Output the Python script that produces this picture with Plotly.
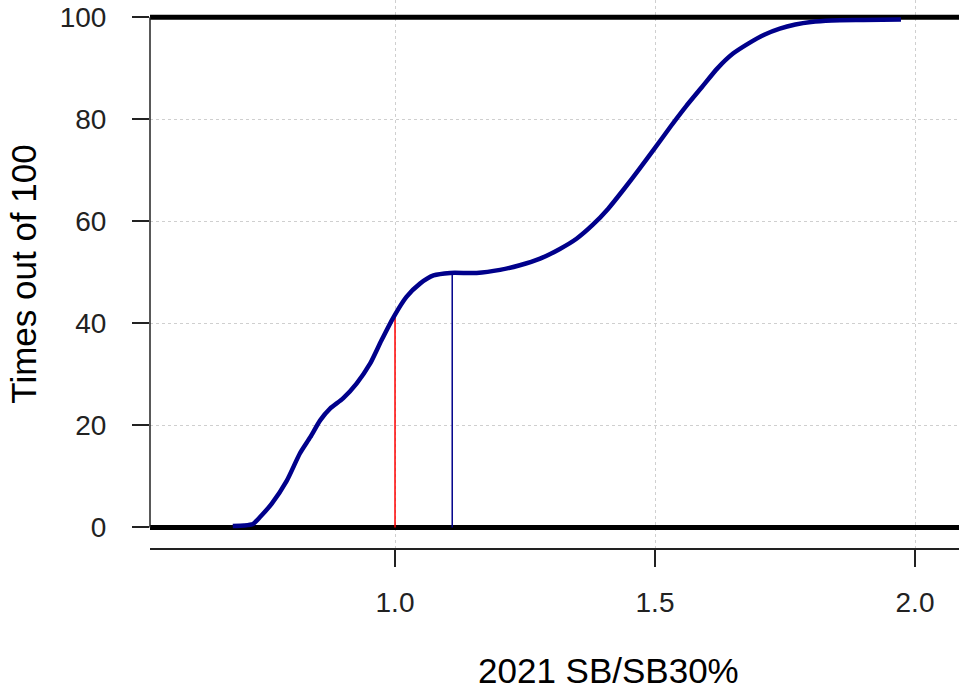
import plotly.graph_objects as go

# Cumulative curve
ratio = [0.688, 0.710, 0.727, 0.740, 0.763, 0.792, 0.817, 0.837, 0.856, 0.875,
         0.900, 0.926, 0.952, 0.974, 0.997, 1.022, 1.048, 1.074, 1.106, 1.157,
         1.202, 1.240, 1.279, 1.317, 1.349, 1.380, 1.410, 1.440, 1.470, 1.500,
         1.530, 1.560, 1.590, 1.620, 1.650, 1.680, 1.710, 1.740, 1.770, 1.800,
         1.840, 1.900, 1.973]
times = [0.3, 0.4, 0.7, 2.0, 4.7, 9.2, 14.5, 17.7, 21.0, 23.3,
         25.3, 28.2, 32.1, 36.7, 41.2, 45.2, 47.8, 49.4, 49.9, 49.9,
         50.5, 51.4, 52.7, 54.6, 56.6, 59.3, 62.5, 66.3, 70.3, 74.4,
         78.6, 82.6, 86.3, 90.0, 92.9, 94.9, 96.6, 97.8, 98.6, 99.1,
         99.4, 99.5, 99.6]

# Reference markers
red_x = [1.0, 1.0]
red_y = [0, 41.6]
blue_x = [1.11, 1.11]
blue_y = [0, 50]

x_range = [0.5288, 2.0846]
y_range = [-4.02, 103.4]
x_ticks = [1.0, 1.5, 2.0]
x_ticklabels = ["1.0", "1.5", "2.0"]
y_ticks = [0, 20, 40, 60, 80, 100]
y_ticklabels = ["0", "20", "40", "60", "80", "100"]
h_lines = [0, 100]
x_title = "2021 SB/SB30%"
y_title = "Times out of 100"

FONT = "Liberation Sans, Arial, sans-serif"

fig = go.Figure()
# thick horizontal reference lines spanning the whole plot region
for h in h_lines:
    fig.add_trace(go.Scatter(x=x_range, y=[h, h], mode="lines",
                             line=dict(color="black", width=5), showlegend=False))
fig.add_trace(go.Scatter(x=red_x, y=red_y, mode="lines",
                         line=dict(color="#ff0000", width=1.5), showlegend=False))
fig.add_trace(go.Scatter(x=blue_x, y=blue_y, mode="lines",
                         line=dict(color="#00008B", width=1.5), showlegend=False))
fig.add_trace(go.Scatter(x=ratio, y=times, mode="lines",
                         line=dict(color="#00008B", width=4.5, shape="spline", smoothing=0.6),
                         showlegend=False))

# left axis line (only between the end ticks)
fig.add_shape(type="line", xref="paper", x0=0, x1=0, yref="y", y0=y_ticks[0], y1=y_ticks[-1],
              line=dict(color="#222222", width=1.5), layer="above")

# x title: centred on the (wider, cropped) original plot region
fig.add_annotation(text=x_title, xref="paper", yref="paper", x=0.567, y=0,
                   yshift=-122, xanchor="center", yanchor="middle", showarrow=False,
                   font=dict(size=35, color="black", family=FONT))

fig.update_layout(
    width=959, height=689,
    margin=dict(l=150, r=0, t=0, b=141, pad=0),
    paper_bgcolor="white", plot_bgcolor="white",
    font=dict(family=FONT, color="black"),
    xaxis=dict(
        range=x_range, tickvals=x_ticks, ticktext=x_ticklabels,
        showgrid=True, gridcolor="#cfcfcf", griddash="3px,3px", gridwidth=1,
        zeroline=False, showline=True, linecolor="#222222", linewidth=1.5,
        ticks="outside", ticklen=17, tickwidth=1.5, tickcolor="#222222",
        tickfont=dict(size=28, color="#222222", family=FONT),
        ticklabelstandoff=12,
        automargin=False,
    ),
    yaxis=dict(
        range=y_range, tickvals=y_ticks, ticktext=y_ticklabels,
        showgrid=True, gridcolor="#cfcfcf", griddash="3px,3px", gridwidth=1,
        zeroline=False, showline=False,
        ticks="outside", ticklen=17, tickwidth=1.5, tickcolor="#222222",
        tickfont=dict(size=28, color="#222222", family=FONT),
        ticklabelstandoff=20,
        title=dict(text=y_title, font=dict(size=35, color="black", family=FONT),
                   standoff=12),
        automargin=False,
    ),
)

fig.write_html("out.html")
